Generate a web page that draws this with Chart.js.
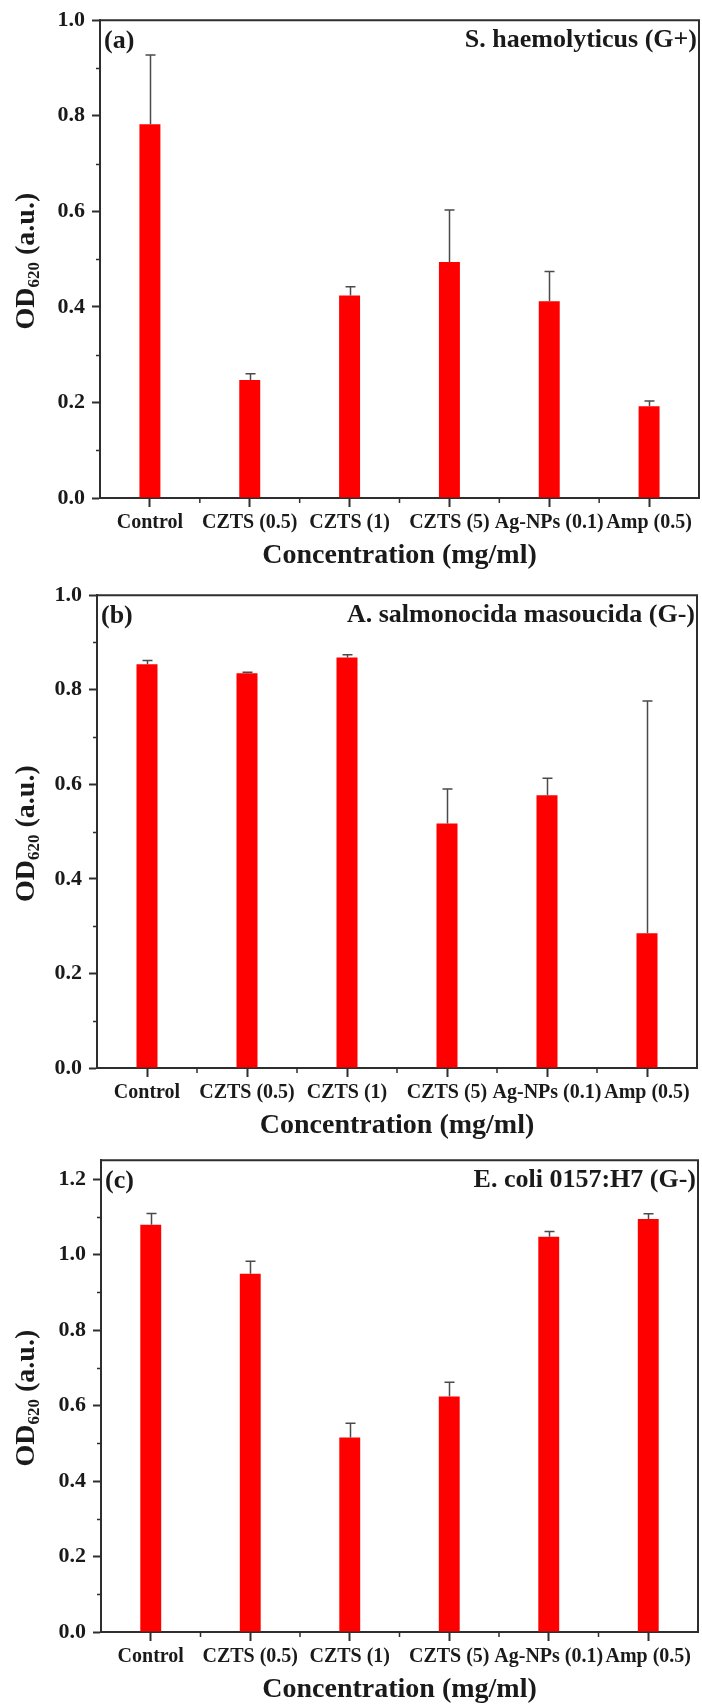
<!DOCTYPE html>
<html><head><meta charset="utf-8">
<script src="https://cdn.jsdelivr.net/npm/chart.js@4.4.1/dist/chart.umd.min.js"></script>
<style>
html,body{margin:0;padding:0;background:#ffffff;}
#wrap{position:relative;width:702px;height:1706px;overflow:hidden;}
.panel{position:absolute;left:0;width:702px;}
canvas{display:block;}
</style></head><body>
<div id="wrap">
<div class="panel" style="top:0px;height:575px"><canvas id="ca" width="702" height="575"></canvas></div>
<div class="panel" style="top:575px;height:565px"><canvas id="cb" width="702" height="565"></canvas></div>
<div class="panel" style="top:1140px;height:566px"><canvas id="cc" width="702" height="566"></canvas></div>
</div>
<script>
// ---- data ----
const categories = ['Control', 'CZTS (0.5)', 'CZTS (1)', 'CZTS (5)', 'Ag-NPs (0.1)', 'Amp (0.5)'];

const valuesA = [0.782, 0.247, 0.424, 0.494, 0.412, 0.192];
const errorsA = [0.145, 0.013, 0.018, 0.109, 0.062, 0.011];

const valuesB = [0.854, 0.835, 0.868, 0.517, 0.577, 0.285];
const errorsB = [0.008, 0.002, 0.006, 0.073, 0.036, 0.491];

const valuesC = [1.079, 0.949, 0.515, 0.624, 1.047, 1.094];
const errorsC = [0.030, 0.033, 0.038, 0.038, 0.014, 0.014];

const yTicksAB = [0.0, 0.2, 0.4, 0.6, 0.8, 1.0];
const yMinorAB = [0.1, 0.3, 0.5, 0.7, 0.9];
const yTicksC = [0.0, 0.2, 0.4, 0.6, 0.8, 1.0, 1.2];
const yMinorC = [0.1, 0.3, 0.5, 0.7, 0.9, 1.1];

const panelLabels = ['(a)', '(b)', '(c)'];
const speciesLabels = ['S. haemolyticus (G+)', 'A. salmonocida masoucida (G-)', 'E. coli 0157:H7 (G-)'];
const xTitle = 'Concentration (mg/ml)';
const yTitleMain = 'OD', yTitleSub = '620', yTitleTail = ' (a.u.)';

// ---- styling ----
const FAM = '"Liberation Serif", "Times New Roman", serif';
const AXIS = '#2e2e2e';
const TEXT = '#1a1a1a';

function makePanel(id, values, errors, yTicks, yMinor, yMax, spec, label, species) {
  const extras = {
    id: 'extras',
    afterDraw(chart) {
      const ctx = chart.ctx;
      const a = chart.chartArea;
      const ys = chart.scales.y;
      const xs = chart.scales.x;
      ctx.save();
      // frame top/right
      ctx.strokeStyle = AXIS; ctx.lineWidth = 2;
      ctx.beginPath();
      ctx.moveTo(a.left, a.top); ctx.lineTo(a.right, a.top); ctx.lineTo(a.right, a.bottom);
      ctx.stroke();
      // minor y ticks
      ctx.lineWidth = 1.5;
      ctx.beginPath();
      yMinor.forEach(v => {
        const p = Math.round(ys.getPixelForValue(v)) + 0.5;
        ctx.moveTo(a.left - 4, p); ctx.lineTo(a.left, p);
      });
      // minor x ticks between categories
      for (let i = 0; i < categories.length - 1; i++) {
        const p = (xs.getPixelForTick(i) + xs.getPixelForTick(i + 1)) / 2;
        ctx.moveTo(p, a.bottom); ctx.lineTo(p, a.bottom + 5);
      }
      ctx.stroke();
      // error bars (upper)
      const meta = chart.getDatasetMeta(0);
      ctx.strokeStyle = '#4a4a4a'; ctx.lineWidth = 1.5;
      ctx.beginPath();
      meta.data.forEach((bar, i) => {
        const y0 = ys.getPixelForValue(values[i]);
        const y1 = ys.getPixelForValue(values[i] + errors[i]);
        const x = Math.round(bar.x) + 0.5;
        ctx.moveTo(x, y0); ctx.lineTo(x, y1);
        ctx.moveTo(x - 5, y1); ctx.lineTo(x + 5, y1);
      });
      ctx.stroke();
      // panel label & species
      ctx.fillStyle = TEXT;
      ctx.textBaseline = 'middle';
      ctx.textAlign = 'left';
      ctx.font = 'bold 26px ' + FAM;
      ctx.fillText(label, a.left + 4, a.top + 21);
      ctx.textAlign = 'right';
      ctx.fillText(species, a.right - 2, a.top + 20);
      // x title
      ctx.font = 'bold 28px ' + FAM;
      ctx.textAlign = 'center';
      ctx.textBaseline = 'alphabetic';
      ctx.fillText(xTitle, (a.left + a.right) / 2, a.bottom + 65);
      // y title with subscript
      const cy = (a.top + a.bottom) / 2 + 2;
      ctx.translate(34, cy);
      ctx.rotate(-Math.PI / 2);
      const big = 'bold 28px ' + FAM, small = 'bold 17px ' + FAM;
      ctx.font = big;
      const w1 = ctx.measureText(yTitleMain).width;
      const w3 = ctx.measureText(yTitleTail).width;
      ctx.font = small;
      const w2 = ctx.measureText(yTitleSub).width;
      let x0 = -(w1 + w2 + w3) / 2;
      ctx.textAlign = 'left';
      ctx.font = big; ctx.fillText(yTitleMain, x0, 0);
      ctx.font = small; ctx.fillText(yTitleSub, x0 + w1, 5);
      ctx.font = big; ctx.fillText(yTitleTail, x0 + w1 + w2, 0);
      ctx.restore();
    }
  };

  return new Chart(document.getElementById(id), {
    type: 'bar',
    data: {
      labels: categories,
      datasets: [{
        data: values,
        backgroundColor: '#ff0000',
        borderWidth: 0,
        categoryPercentage: 1.0,
        barPercentage: 0.21
      }]
    },
    options: {
      responsive: false,
      animation: false,
      devicePixelRatio: 1,
      layout: { padding: { left: 0, right: 702 - spec.right, top: spec.top, bottom: 0 } },
      plugins: { legend: { display: false }, tooltip: { enabled: false } },
      scales: {
        x: {
          type: 'category',
          offset: true,
          grid: { display: true, drawOnChartArea: false, drawTicks: true, tickLength: 9, offset: false,
                  color: AXIS, tickColor: AXIS, tickWidth: 2 },
          border: { display: true, color: AXIS, width: 2 },
          ticks: { autoSkip: false, maxRotation: 0, minRotation: 0, padding: 4, color: TEXT,
                   font: { family: FAM, size: 20, weight: 'bold' } },
          afterFit(s) { s.height = spec.h - spec.bottom; }
        },
        y: {
          min: 0, max: yMax,
          afterBuildTicks(s) { s.ticks = yTicks.map(v => ({ value: v })); },
          grid: { drawOnChartArea: false, drawTicks: true, tickLength: 8, color: AXIS, tickColor: AXIS, tickWidth: 2 },
          border: { display: true, color: AXIS, width: 2 },
          ticks: { padding: 7, color: TEXT, font: { family: FAM, size: 22, weight: 'bold' },
                   callback: v => Number(v).toFixed(1) },
          afterFit(s) { s.width = spec.left; }
        }
      }
    },
    plugins: [extras]
  });
}

makePanel('ca', valuesA, errorsA, yTicksAB, yMinorAB, 1.0,
  { h: 575, left: 100, right: 699, top: 20, bottom: 498 }, panelLabels[0], speciesLabels[0]);
makePanel('cb', valuesB, errorsB, yTicksAB, yMinorAB, 1.0,
  { h: 565, left: 97, right: 697, top: 15, bottom: 493 }, panelLabels[1], speciesLabels[1]);
makePanel('cc', valuesC, errorsC, yTicksC, yMinorC, 1.25,
  { h: 566, left: 101, right: 698, top: 15, bottom: 492 }, panelLabels[2], speciesLabels[2]);
</script>
</body></html>
